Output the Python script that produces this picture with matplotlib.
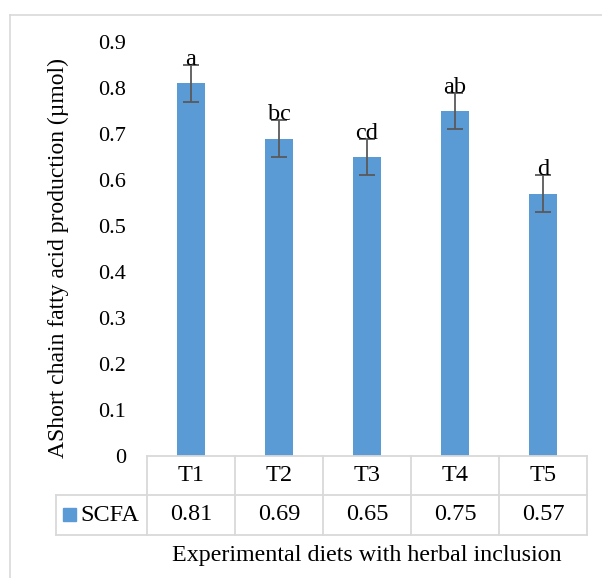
import matplotlib
matplotlib.use("Agg")
import matplotlib.pyplot as plt
from matplotlib.transforms import blended_transform_factory
from matplotlib.patches import Rectangle

categories = ["T1", "T2", "T3", "T4", "T5"]
scfa = [0.81, 0.69, 0.65, 0.75, 0.57]
errors = [0.04, 0.04, 0.04, 0.04, 0.04]
letters = ["a", "bc", "cd", "ab", "d"]
series_name = "SCFA"
yticks = [0, 0.1, 0.2, 0.3, 0.4, 0.5, 0.6, 0.7, 0.8, 0.9]

plt.rcParams['font.family'] = ['Liberation Serif', 'DejaVu Serif']

W, H = 602, 578
fig = plt.figure(figsize=(W / 100, H / 100), dpi=100)

# overlay in pixel coordinates for frame
ov = fig.add_axes([0, 0, 1, 1])
ov.set_xlim(0, W)
ov.set_ylim(H, 0)
ov.axis("off")
frame_c = "#d9d9d9"
ov.plot([9.5, 9.5], [H + 5, 15], color=frame_c, lw=1.2)
ov.plot([9.5, W + 5], [15, 15], color=frame_c, lw=1.2)

x0, x1 = 147, 587
y0, y1 = 456, 42
ax = fig.add_axes([x0 / W, 1 - y0 / H, (x1 - x0) / W, (y0 - y1) / H])
ax.set_xlim(-0.5, len(categories) - 0.5)
ax.set_ylim(0, 0.9)
xs = list(range(len(categories)))
bar_c = "#5b9bd5"
ax.bar(xs, scfa, width=0.32, color=bar_c, zorder=2)
ax.errorbar(xs, scfa, yerr=errors, fmt="none", ecolor="#595959", elinewidth=1.3,
            capsize=5.5, capthick=1.3, zorder=3)
for x, v, e, l in zip(xs, scfa, errors, letters):
    ax.text(x, v + e, l, ha="center", va="baseline", fontsize=17.5, color="black", zorder=4)

for s in ax.spines.values():
    s.set_visible(False)
ax.set_xticks([])
ax.set_yticks(yticks)
ax.set_yticklabels([f"{t:g}" for t in yticks], fontsize=16)
ax.tick_params(axis="y", length=0, pad=15)
fig.text(58 / W, 1 - 258 / H, "AShort chain fatty acid production (µmol)",
         rotation=90, ha="center", va="center", fontsize=17)

# data table below axes
tr = blended_transform_factory(ax.transData, ax.transAxes)
axh = y0 - y1
r1 = -(495 - y0) / axh
r2 = -(535 - y0) / axh
tc = "#d9d9d9"
n = len(categories)
legx = -0.5 - (x0 - 56) / ((x1 - x0) / n)
kw = dict(color=tc, lw=1.3, transform=tr, clip_on=False)
ax.plot([-0.5, n - 0.5], [0, 0], **kw)
ax.plot([legx, n - 0.5], [r1, r1], **kw)
ax.plot([legx, n - 0.5], [r2, r2], **kw)
ax.plot([legx, legx], [r1, r2], **kw)
for i in range(n + 1):
    ax.plot([i - 0.5, i - 0.5], [0, r2], **kw)
for x, c, v in zip(xs, categories, scfa):
    ax.text(x, (0 + r1) / 2, c, ha="center", va="center", fontsize=17.5, transform=tr)
    ax.text(x, (r1 + r2) / 2, f"{v:.2f}", ha="center", va="center", fontsize=17.5, transform=tr)
# legend entry in table
ov.add_patch(Rectangle((63, 508), 13, 13, color=bar_c))
ov.text(80, 515.5, series_name, ha="left", va="center", fontsize=17.5)
fig.text(367 / W, 1 - 556 / H, "Experimental diets with herbal inclusion",
         ha="center", va="center", fontsize=17.3)

fig.savefig("out.png", dpi=100)
